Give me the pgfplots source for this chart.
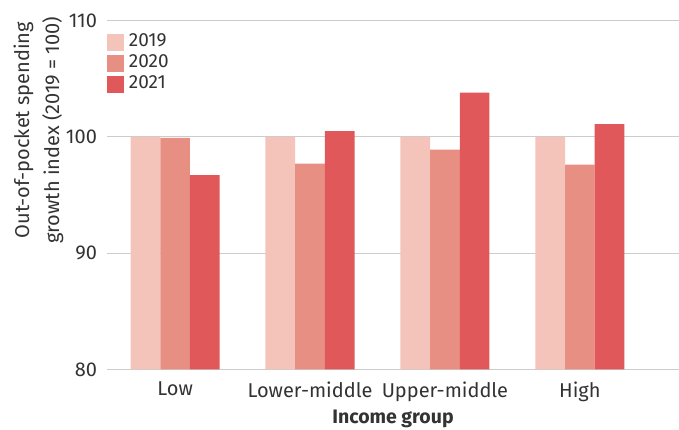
\documentclass[border=0pt]{standalone}
\usepackage{pgfplots}
\pgfplotsset{compat=1.18}
\usepackage{fontspec}
\setmainfont{Fira Sans}
\definecolor{c19}{HTML}{F4C3B9}
\definecolor{c20}{HTML}{E88F84}
\definecolor{c21}{HTML}{E0585A}
\definecolor{txt}{HTML}{333333}
\definecolor{grd}{HTML}{CCCCCC}

\begin{document}
\begin{tikzpicture}
\begin{axis}[
 scale only axis,
 width=572pt, height=349pt,
 at={(0,0)}, anchor=south west,
 ybar=0pt, bar width=29.7pt,
 xmin=-0.505, xmax=3.735,
 ymin=80, ymax=110,
 xtick=data,
 xticklabels={Low, Lower-middle, Upper-middle, High},
 ytick={80,90,100,110},
 axis line style={draw=none},
 x tick style={draw=none},
 y tick style={grd, line width=1pt},
 major tick length=3pt,
 ymajorgrids=true,
 grid style={grd, line width=1.3pt},
 ticklabel style={font=\fontsize{20}{24}\selectfont, text=txt},
 /pgf/number format/assume math mode=true,
 yticklabel style={xshift=-6.5pt},
 xticklabel style={yshift=-6pt},
 xlabel={\bfseries Income group},
 xlabel style={font=\fontsize{19.5}{24}\selectfont, text=txt, yshift=-1.5pt},
 ylabel={Out-of-pocket spending\\growth index (2019 = 100)},
 ylabel style={at={(axis description cs:-0.12,0.686)}, anchor=center,
   font=\fontsize{20}{30}\selectfont, text=txt, align=center},
 legend style={at={(0,1)}, anchor=north west, xshift=-3pt, yshift=-11.5pt, draw=none, fill=none,
   font=\fontsize{19}{22}\selectfont, text=txt, row sep=4.3pt, column sep=3pt,
   nodes={inner xsep=2pt, inner ysep=0pt, text height=12.5pt, text depth=4.2pt}},
 legend cell align=left,
 legend image code/.code={\fill[#1, draw=none] (0pt,-8.35pt) rectangle (16.7pt,8.35pt);},
]
\addplot[fill=c19, draw=none] coordinates {(0,100) (1,100) (2,100) (3,100)};
\addplot[fill=c20, draw=none] coordinates {(0,99.9) (1,97.7) (2,98.9) (3,97.6)};
\addplot[fill=c21, draw=none] coordinates {(0,96.7) (1,100.5) (2,103.8) (3,101.1)};
\legend{2019, 2020, 2021}
\end{axis}
\pgfresetboundingbox
\useasboundingbox (-107pt,-60.5pt) rectangle (572pt,369.5pt);
\end{tikzpicture}
\end{document}
